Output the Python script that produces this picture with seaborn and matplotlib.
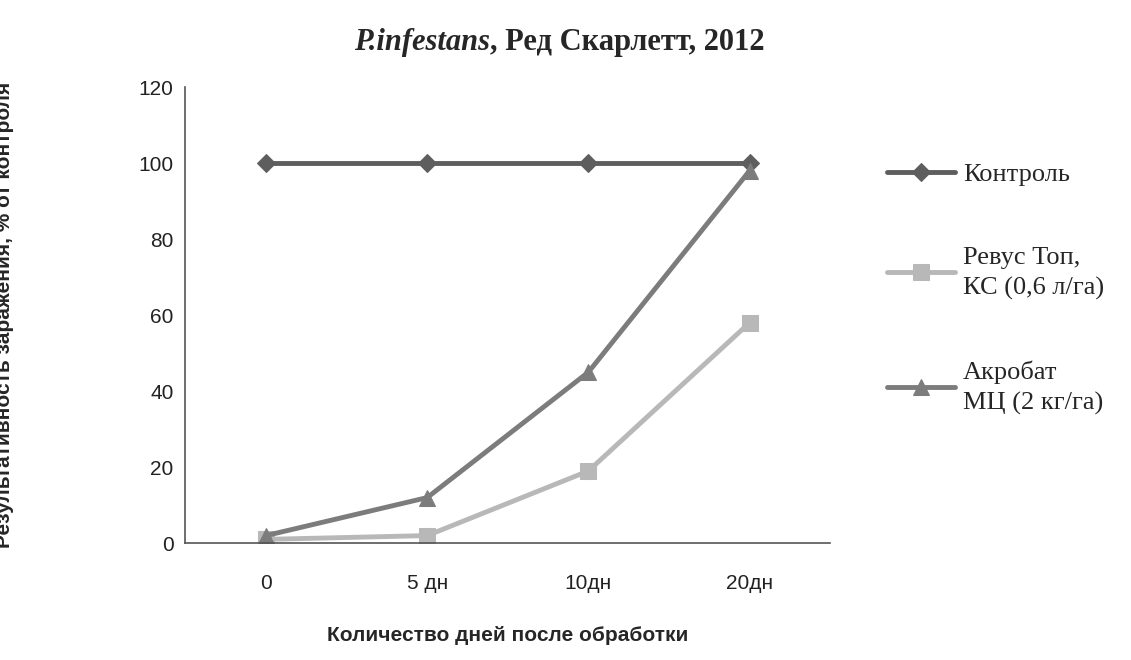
import matplotlib
matplotlib.use("Agg")
import matplotlib.pyplot as plt
import seaborn as sns
import pandas as pd

days = ["0", "5 дн", "10дн", "20дн"]
control = [100, 100, 100, 100]
revus = [1, 2, 19, 58]
acrobat = [2, 12, 45, 98]
series_names = ["Контроль", "Ревус Топ,\nКС (0,6 л/га)", "Акробат\nМЦ (2 кг/га)"]

sns.set_style("white")
plt.rcParams['font.family'] = ['Liberation Sans', 'DejaVu Sans']

rows = []
for name, vals in zip(series_names, [control, revus, acrobat]):
    for d, v in zip(days, vals):
        rows.append({"day": d, "value": v, "series": name})
df = pd.DataFrame(rows)

fig = plt.figure(figsize=(11.31, 6.6), dpi=100)
ax = fig.add_axes([0.164, 0.177, 0.57, 0.691])

colors = ["#5e5e5e", "#b8b8b8", "#7c7c7c"]
markers = ["D", "s", "^"]
sizes = [9, 11, 12]
for name, c, m, s in zip(series_names, colors, markers, sizes):
    sub = df[df.series == name]
    sns.lineplot(data=sub, x="day", y="value", ax=ax, color=c, marker=m,
                 markersize=s, linewidth=3.5, markeredgecolor=c, label=name,
                 sort=False)

ax.set_xlim(-0.5, 3.5)
ax.set_ylim(0, 120)
ax.set_yticks(range(0, 121, 20))
ax.tick_params(labelsize=15, length=5, direction="out", colors="#222222")
ax.tick_params(axis="x", pad=17)
for sp in ["top", "right"]:
    ax.spines[sp].set_visible(False)
for sp in ["left", "bottom"]:
    ax.spines[sp].set_color("#555555")
    ax.spines[sp].set_linewidth(1.2)
ax.set_xlabel("Количество дней после обработки", fontsize=15, fontweight="bold", labelpad=24)
ax.set_ylabel("Результативность заражения, % от контроля", fontsize=15, fontweight="bold", labelpad=90)

handles, labels = ax.get_legend_handles_labels()
ax.get_legend().remove()
leg = fig.legend(handles, labels, loc="upper left", bbox_to_anchor=(0.763, 0.79),
                 frameon=False, labelspacing=2.3, handlelength=2.6, handletextpad=0.3,
                 prop={"family": "Liberation Serif", "size": 19})
for t in leg.get_texts():
    t.set_linespacing(1.45)

fig.text(0.433, 0.935, "P.infestans", ha="right", va="center", fontsize=22,
         fontweight="bold", fontstyle="italic", family="Liberation Serif")
fig.text(0.433, 0.935, ", Ред Скарлетт, 2012", ha="left", va="center", fontsize=22,
         fontweight="bold", family="Liberation Serif")

fig.savefig("out.png", dpi=100)
